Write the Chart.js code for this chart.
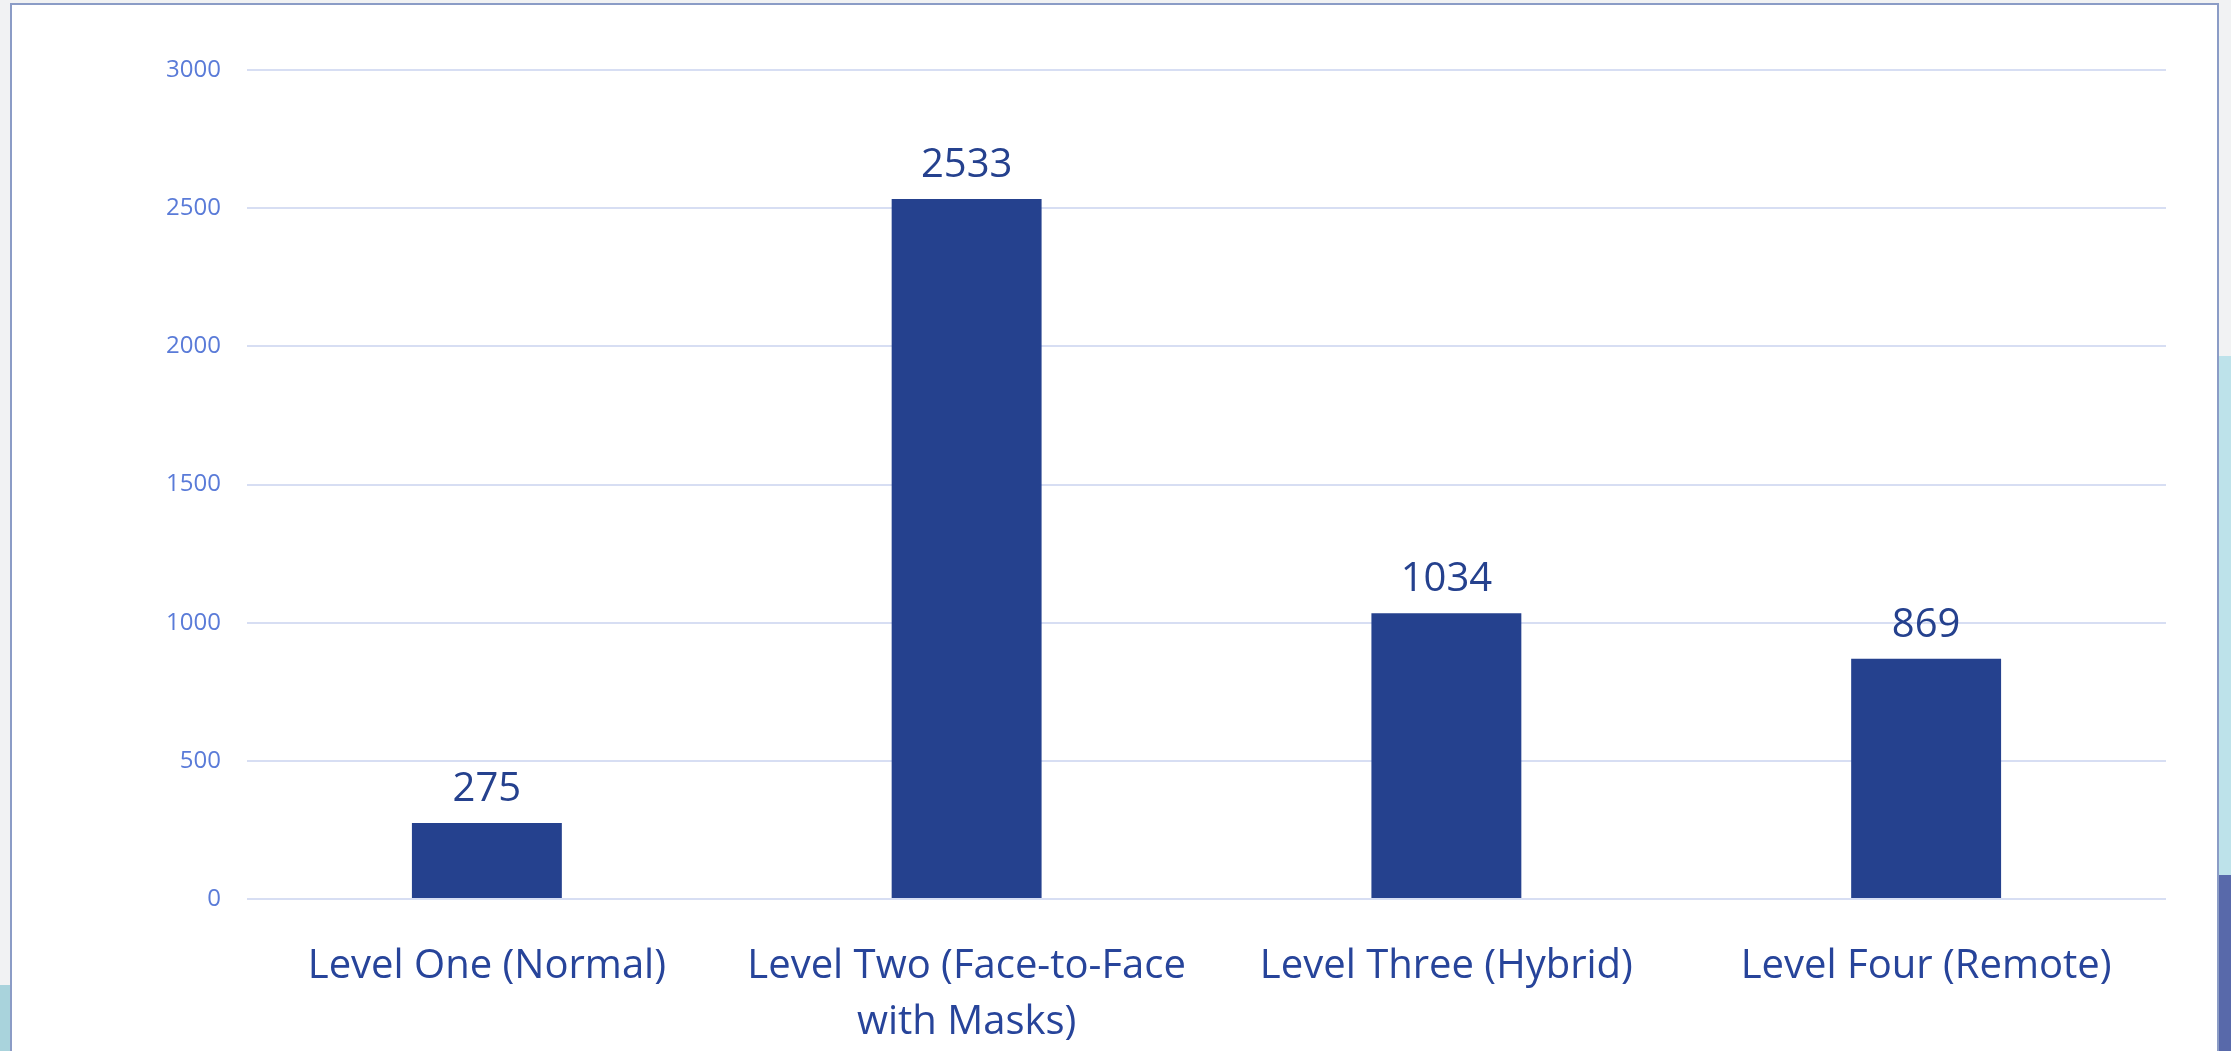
<!DOCTYPE html>
<html>
<head>
<meta charset="utf-8">
<script src="https://cdn.jsdelivr.net/npm/chart.js@4"></script>
<style>
  html, body { margin: 0; padding: 0; background: #f1f2f3; overflow: hidden; }
  #stripR1 { position: absolute; left: 2219px; top: 356px; width: 12px; height: 519px; background: #bde2ea; }
  #stripR2 { position: absolute; left: 2219px; top: 875px; width: 12px; height: 176px; background: #5869aa; }
  #stripL { position: absolute; left: 0; top: 985px; width: 10px; height: 66px; background: #a9d3dc; }
  #panel { position: absolute; left: 10px; top: 3px; width: 2205px; height: 1100px;
           background: #fff; border: 2px solid #8b9cc6; }
  #c { position: absolute; left: 0; top: 0; }
</style>
</head>
<body>
<div id="stripR1"></div>
<div id="stripR2"></div>
<div id="stripL"></div>
<div id="panel"></div>
<canvas id="c" width="2231" height="1051"></canvas>
<script>
// values
const categories = [
    'Level One (Normal)',
    ['Level Two (Face-to-Face', 'with Masks)'],
    'Level Three (Hybrid)',
    'Level Four (Remote)'
];
const counts = [275, 2533, 1034, 869];
const yTicks = [0, 500, 1000, 1500, 2000, 2500, 3000];

const barColor = '#25418e';

// draws the number above each bar
const valueLabels = {
    id: 'valueLabels',
    afterDatasetsDraw(chart) {
        const ctx = chart.ctx;
        const meta = chart.getDatasetMeta(0);
        ctx.save();
        ctx.font = '40px "Open Sans"';
        ctx.fillStyle = barColor;
        ctx.textAlign = 'center';
        ctx.textBaseline = 'alphabetic';
        meta.data.forEach((bar, i) => {
            ctx.fillText(String(counts[i]), bar.x, bar.y - 22);
        });
        ctx.restore();
    }
};

const ctx = document.getElementById('c').getContext('2d');
const chart = new Chart(ctx, {
    type: 'bar',
    data: {
        labels: categories,
        datasets: [{
            data: counts,
            backgroundColor: barColor,
            borderWidth: 0,
            categoryPercentage: 1,
            barPercentage: 0.3125
        }]
    },
    options: {
        responsive: false,
        animation: false,
        devicePixelRatio: 1,
        layout: { padding: { top: 70, right: 65, bottom: 0, left: 0 } },
        plugins: {
            legend: { display: false },
            tooltip: { enabled: false }
        },
        scales: {
            x: {
                grid: { display: false },
                border: { display: false },
                ticks: {
                    color: '#27449a',
                    font: { family: 'Open Sans', size: 40, lineHeight: 1.4 },
                    padding: 32,
                    maxRotation: 0,
                    autoSkip: false
                },
                afterFit: (s) => { s.height = 152; }
            },
            y: {
                min: 0,
                max: 3000,
                afterBuildTicks: (s) => { s.ticks = yTicks.map(v => ({ value: v })); },
                grid: { color: '#d7def3', lineWidth: 2, drawTicks: false },
                border: { display: false },
                ticks: {
                    color: '#5a7bd8',
                    font: { family: 'Open Sans', size: 24 },
                    padding: 26,
                    callback: (v) => String(v)
                },
                afterFit: (s) => { s.width = 247; }
            }
        }
    },
    plugins: [valueLabels]
});
</script>
</body>
</html>
